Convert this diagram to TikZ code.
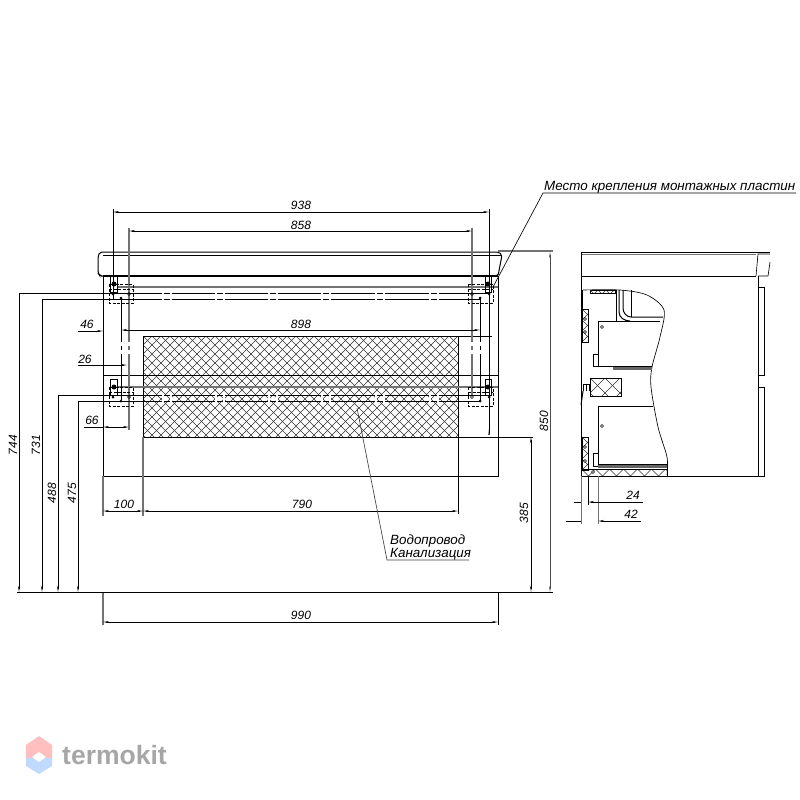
\documentclass[tikz,border=0pt]{standalone}
\usepackage{fontspec}
\setmainfont{Liberation Sans}
\usetikzlibrary{arrows.meta}
\tikzset{
  heavy/.style={black,line width=1pt},
  thin line/.style={black,line width=.65pt},
  ext/.style={black!55,line width=1.1pt},
  dim/.style={black,line width=.9pt,{Stealth[length=6pt,width=2pt]}-{Stealth[length=6pt,width=2pt]}},
  dimend/.style={black,line width=.9pt,-{Stealth[length=6pt,width=2pt]}},
  lbl/.style={font=\fontsize{12}{12}\selectfont\itshape,inner sep=0pt},
  call lbl/.style={font=\fontsize{13.4}{13}\selectfont\itshape,inner sep=0pt},
  side lbl/.style={lbl,rotate=90},
  plate/.style={black,line width=.7pt,dash pattern=on 3pt off 1.5pt},
  gapline/.style={white,line width=2pt},
  dot/.style={circle,fill=black,inner sep=0pt,minimum size=3pt},
  ring/.style={circle,draw=black,line width=.5pt,inner sep=0pt,minimum size=3pt}
}
\newcommand{\crossfill}[5]{% x1 y1 x2 y2 pitch
  \begin{scope}
    \clip (#1,#2) rectangle (#3,#4);
    \foreach \k in {-60,-59,...,60} {
      \draw[black!80,line width=.4pt] ({#1+(\k)*#5},#2) -- ++(400,400);
      \draw[black!80,line width=.4pt] ({#1+(\k)*#5},#2) -- ++(-400,400);
    }
  \end{scope}
  \draw[black,line width=.5pt] (#1,#2) rectangle (#3,#4);
}
\begin{document}
\begin{tikzpicture}[x=1pt,y=-1pt]
\useasboundingbox[fill=white] (0,0) rectangle (800,800);
%hatched zone
\crossfill{143}{336}{458}{437}{9}
%front body
\draw[heavy] (103,276) -- (103,476) -- (498,476) -- (498,276);
\draw[heavy,rounded corners=2pt] (103,276) -- (100,276) -- (98,273) -- (98,256) -- (100,252) -- (499,252) -- (502,255) -- (498,276) -- cycle;
\draw[heavy] (103,255) -- (502,255);
\draw[black,line width=1.4pt] (103,276) -- (498,276);
\draw[ext] (117,287) -- (498,287);
\draw[heavy] (103,375) -- (498,375);
\draw[ext] (117,387) -- (498,387);
\draw[heavy] (143,336) -- (492,336);
%extension lines
\draw[heavy] (113,209) -- (113,300);
\draw[heavy] (489,209) -- (489,300);
\draw[ext] (129,228) -- (129,430);
\draw[ext] (472,228) -- (472,395);
\draw[heavy] (121,298) -- (121,400);
\draw[heavy] (480,298) -- (480,400);
\draw[ext] (103,476) -- (103,516);
\draw[ext] (143,437) -- (143,516);
\draw[heavy] (458,437) -- (458,514);
\draw[ext] (103,592) -- (103,625);
\draw[heavy] (498,592) -- (498,625);
\draw[ext] (498,251) -- (553,251);
\draw[heavy] (458,437) -- (533,437);
\draw[heavy] (17,592) -- (553,592);
%long lines from the plates
\draw[heavy] (19,293) -- (489,293);
\draw[heavy] (42,299) -- (480,299);
\draw[heavy] (58,395) -- (489,395);
\draw[heavy] (78,401) -- (480,401);
\foreach \gx in {167,220,273,326,380,434} {
  \draw[gapline] (\gx-4,291) -- (\gx-4,301);
  \draw[gapline] (\gx+4,291) -- (\gx+4,301);
  \draw[gapline] (\gx-4,393) -- (\gx-4,403);
  \draw[gapline] (\gx+4,393) -- (\gx+4,403);
}
\foreach \gx in {113,121,129,472,480,489} {
  \draw[gapline] (\gx,342) -- (\gx,346);
  \draw[gapline] (\gx,350) -- (\gx,354);
}
%plates
\foreach \py in {284,387} {
  \draw[plate] (109,\py) rectangle (133,\py+19);
  \draw[plate] (109,\py+5) -- (133,\py+5);
  \draw[thin line] (110,\py-8) rectangle (117,\py+8);
  \node[dot,minimum size=5pt] (blobl\py) at (114,\py) {};
  \node[dot] (dotla\py) at (113,\py+10) {};
  \node[ring] (dotlb\py) at (129,\py+10) {};
  \node[dot] (dotlc\py) at (121,\py+14) {};
  \draw[plate] (468,\py) rectangle (493,\py+19);
  \draw[plate] (468,\py+5) -- (493,\py+5);
  \draw[thin line] (485,\py-8) rectangle (491,\py+8);
  \node[dot,minimum size=5pt] (blobr\py) at (488,\py) {};
  \node[dot] (dotra\py) at (489,\py+10) {};
  \node[ring] (dotrb\py) at (472,\py+10) {};
  \node[dot] (dotrc\py) at (480,\py+14) {};
}
%horizontal dimensions
\draw[dim] (113,212) -- (489,212);
\node[lbl] (l938) at (301,205) {938};
\draw[dim] (129,231) -- (472,231);
\node[lbl] (l858) at (301,225) {858};
\draw[dim] (121,330) -- (480,330);
\node[lbl] (l898) at (301,324) {898};
\draw[dimend] (78,331) -- (103,331);
\node[lbl] (l46) at (87,324) {46};
\draw[dimend] (78,365) -- (127,365);
\node[lbl] (l26) at (85,359) {26};
\draw[dim] (103,427) -- (129,427);
\draw[heavy] (84,427) -- (103,427);
\node[lbl] (l66) at (92,420) {66};
\draw[dim] (103,511) -- (143,511);
\node[lbl] (l100) at (124,504) {100};
\draw[dim] (143,511) -- (458,511);
\node[lbl] (l790) at (302,504) {790};
\draw[dim] (103,622) -- (498,622);
\node[lbl] (l990) at (301,615) {990};
%vertical dimensions
\draw[heavy,-{Stealth[length=6pt,width=2pt]}] (489,300) -- (489,437);
\foreach \dx/\dy/\dt/\lx/\ly in {19/293/744/13/445,42/299/731/36/445,58/395/488/52/493,78/401/475/72/493} {
  \draw[dimend] (\dx,\dy) -- (\dx,592);
  \node[side lbl] (l\dt) at (\lx,\ly) {\dt};
}
\draw[dim] (531,437) -- (531,592);
\node[side lbl] (l385) at (524,513) {385};
\draw[dim,black!70] (550,252) -- (550,592);
\node[side lbl] (l850) at (544,421) {850};
%callouts
\node[call lbl,anchor=west] (lplate) at (544,187) {Место крепления монтажных пластин};
\coordinate (platea) at (796,193);
\coordinate (plateb) at (543,193);
\coordinate (platec) at (493,287);
\draw[thin line] (platea) -- (plateb) -- (platec);
\node[call lbl,anchor=west] (lpipe) at (390,541) {Водопровод};
\node[call lbl,anchor=west] (lsewer) at (390,554) {Канализация};
\coordinate (pipea) at (469,560);
\coordinate (pipeb) at (387,560);
\coordinate (pipec) at (357,408);
\draw[thin line,black!75] (pipea) -- (pipeb) -- (pipec);
%side view
\draw[heavy] (581,252) -- (770,252);
\draw[ext,line width=.7pt] (581,254.5) -- (756,254.5);
\draw[heavy] (581,276) -- (756,276);
\draw[heavy] (581,252) -- (581,476) -- (758,476) -- (758,276);
\draw[thin line] (756,276) -- (758,254) -- (770,254);
\draw[thin line] (758,276) -- (768,276) -- (770,262);
\draw[heavy] (758,287) -- (764,287) -- (764,375) -- (758,375);
\draw[heavy] (758,387) -- (764,387) -- (764,476) -- (758,476);
\draw[thin line] plot[smooth] coordinates {(583,290) (620,290) (647,295) (664,310) (660,337) (652,367) (651,387) (658,427) (667,457) (667,475)};
%side view inner parts
\draw[heavy] (598,366) -- (598,321) -- (660,321);
\draw[thin line] (616,290) -- (616,321);
\draw[heavy] (619,290) -- (619,312) to[out=-90,in=180] (630,321);
\draw[heavy] (623,290) -- (623,308) to[out=-90,in=180] (631,317) -- (663,317);
\draw[thin line] (631,290) -- (631,317);
\draw[heavy] (598,366) -- (652,366);
\fill[black!60] (613,367) rectangle (652,370);
\draw[heavy] (593,354) -- (593,366) -- (598,366);
\draw[thin line] (593,354) -- (598,354);
\node[ring] (boltup) at (602,327) {};
\draw[heavy] (598,464) -- (598,406) -- (653,406);
\draw[heavy] (598,464) -- (667,464);
\fill[black!60] (598,465) rectangle (667,468);
\draw[thin line] (593,466) -- (593,453) -- (598,453);
\draw[thin line] (593,466) -- (598,466);
\node[ring] (boltlow) at (602,426) {};
\crossfill{581.5}{469}{667}{476}{14}
\crossfill{590}{378}{621}{396}{15}
\crossfill{582}{309}{588}{342}{11}
\crossfill{582}{437}{588}{470}{11}
\crossfill{590}{290}{615}{293}{8}
\foreach \ry in {319,332,447,461} {
  \node[ring,fill=white] (holeb\ry) at (585,\ry) {};
}
\node[ring,fill=white] (holea) at (593,472) {};
\draw[heavy] (582,290) -- (582,309);
\draw[thin line] (583,391) -- (583,384) -- (589,384) -- (589,391);
\draw[thin line] (586,384) -- (586,391);
\draw[heavy] (581,405) -- (583,391);
%side view dimensions
\draw[ext,line width=.8pt] (581,476) -- (581,524);
\draw[heavy] (588,476) -- (588,505);
\draw[ext,line width=.8pt] (598,476) -- (598,524);
\draw[thin line] (574,502) -- (581,502);
\draw[dimend] (643,502) -- (588,502);
\draw[thin line] (566,521) -- (581,521);
\draw[dimend] (641,521) -- (598,521);
\node[lbl] (l24) at (633,495) {24};
\node[lbl] (l42) at (631,514) {42};
%logo
\fill[red!25] (26,745) -- (39,736) -- (52,745) -- (52,758) -- (26,758) -- cycle;
\fill[blue!60!cyan!25] (26,758) -- (52,758) -- (52,766) -- (39,774) -- (26,766) -- cycle;
\fill[white] (32,757) -- (39,752) -- (46,757) -- (39,762) -- cycle;
\node[inner sep=0pt,anchor=west,text=black!35,font=\fontsize{26.5}{26}\selectfont\bfseries] (logotext) at (62,755) {termokit};
\end{tikzpicture}
\end{document}
